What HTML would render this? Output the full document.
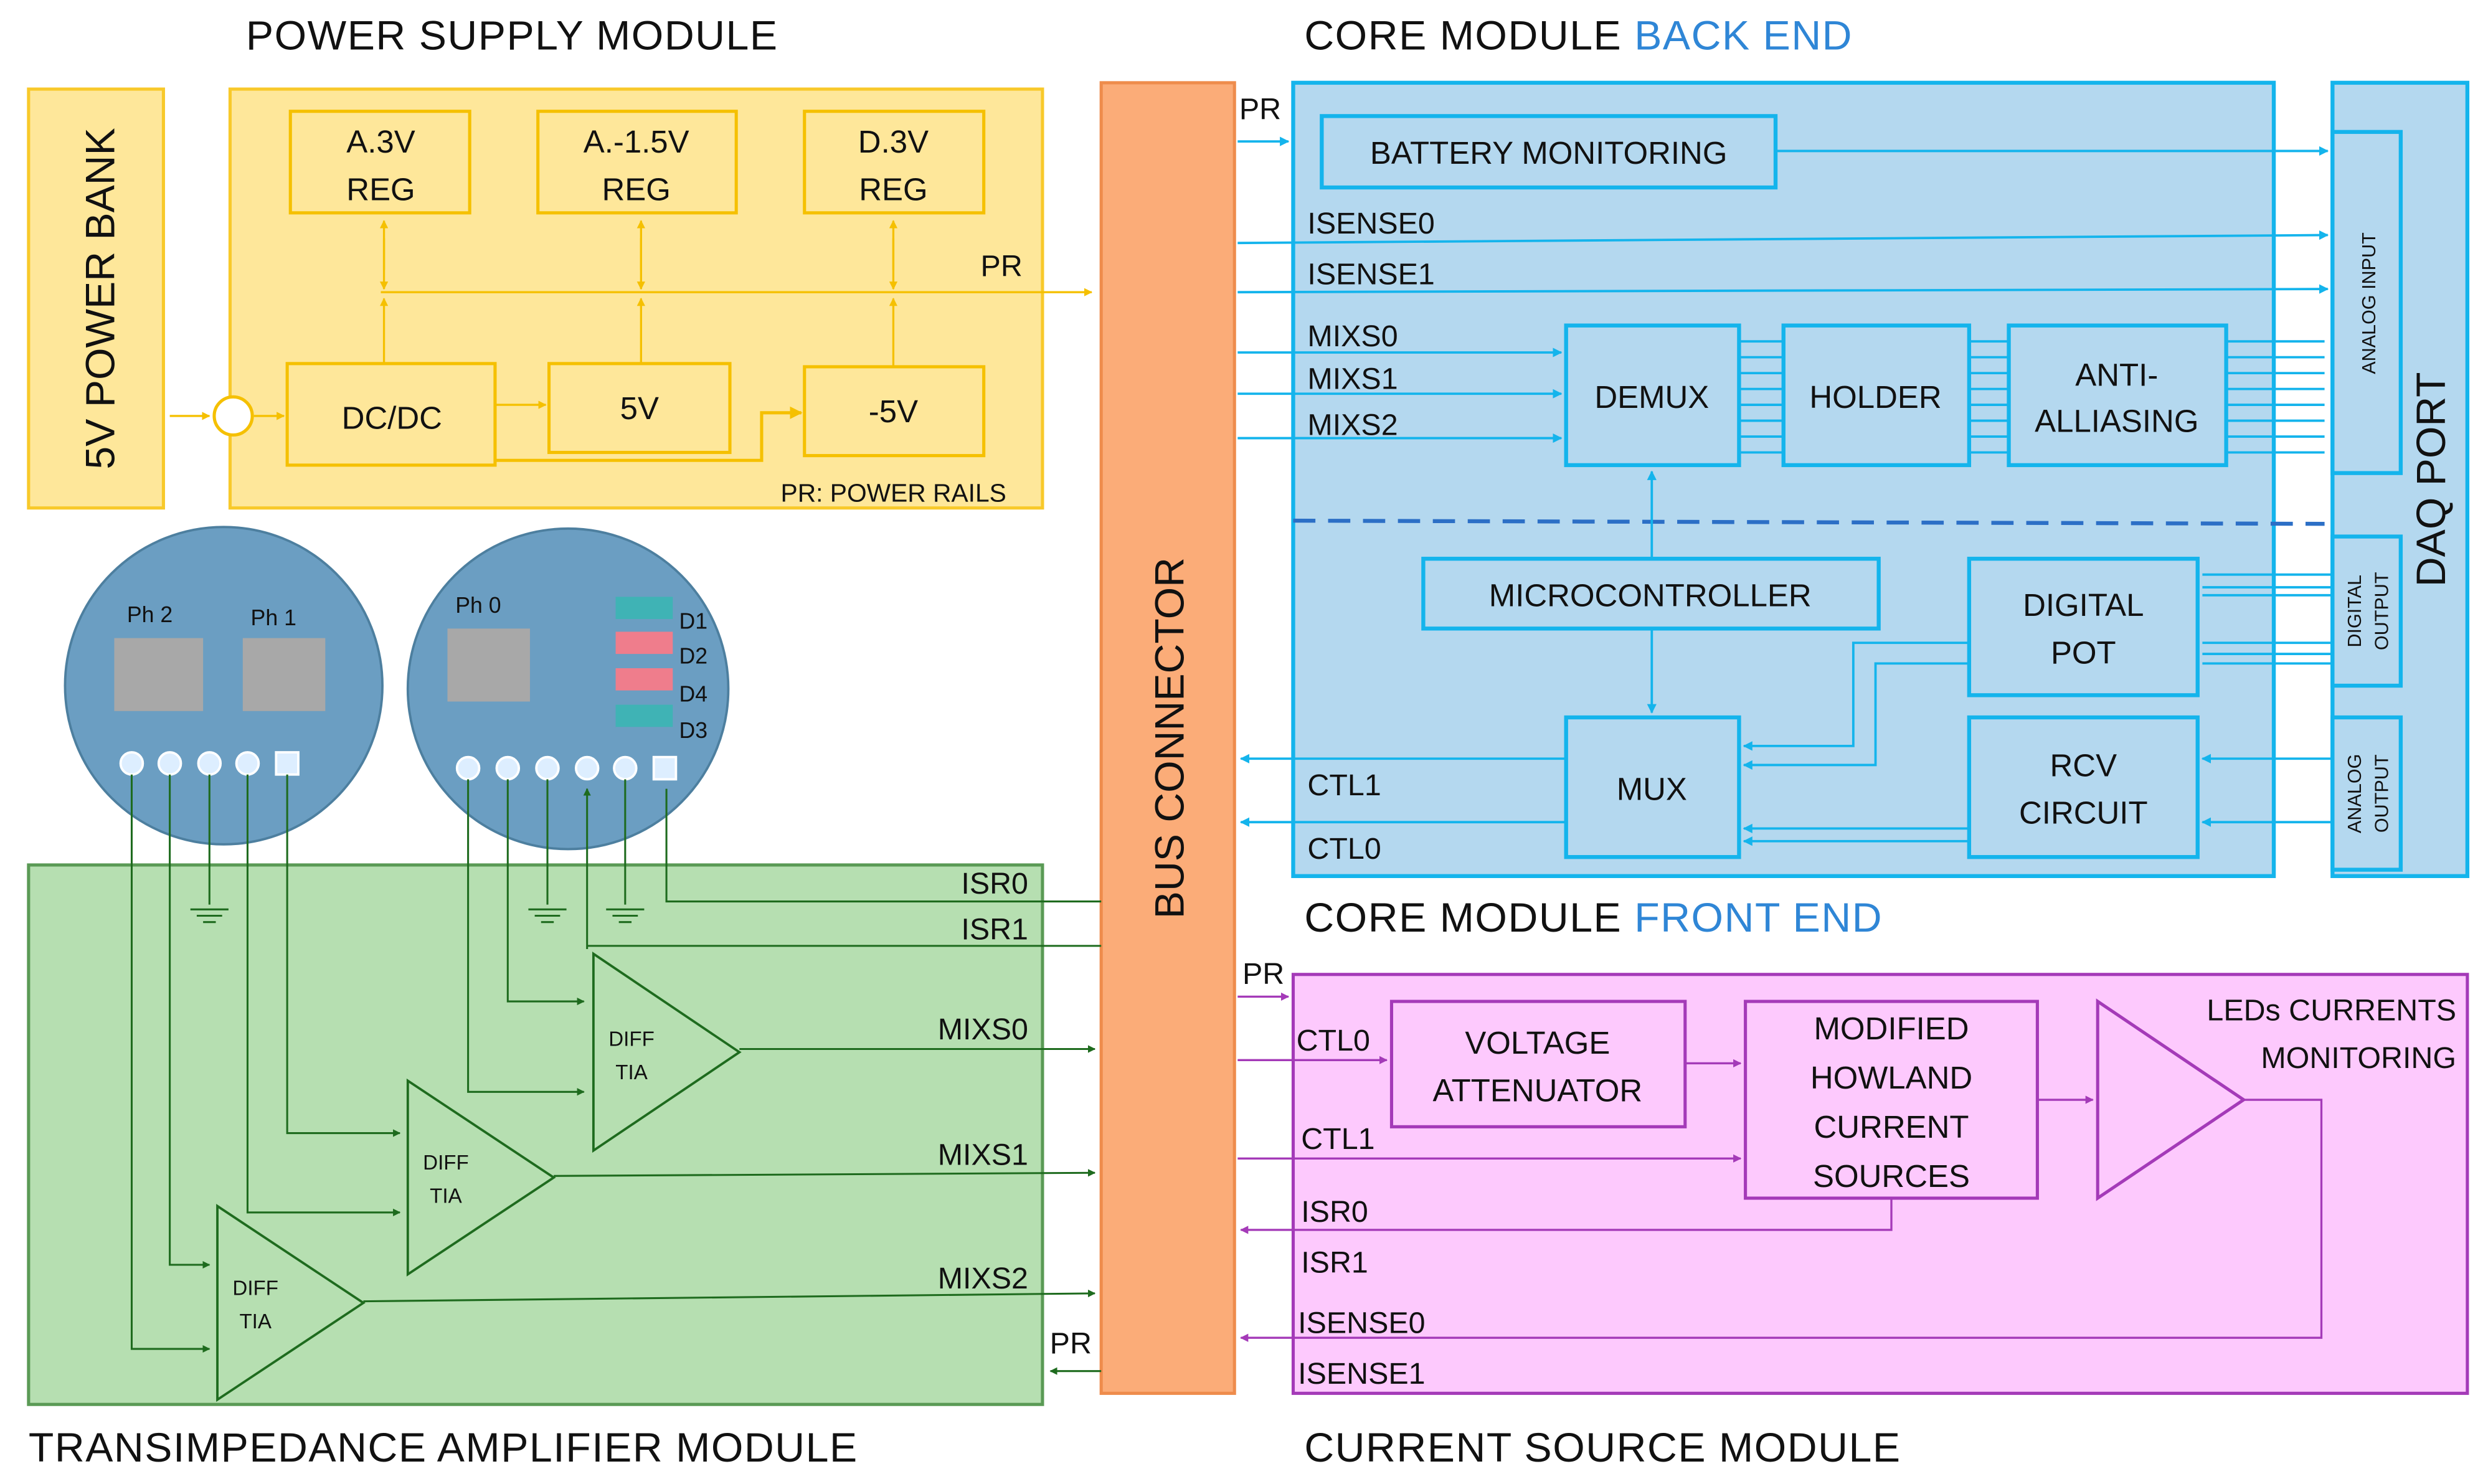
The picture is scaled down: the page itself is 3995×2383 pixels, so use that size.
<!DOCTYPE html>
<html><head><meta charset="utf-8"><style>
html,body{margin:0;padding:0;background:#fff;}
svg{display:block;}
text{font-family:"Liberation Sans",sans-serif;fill:#111;}
</style></head><body>
<svg width="3995" height="2383" viewBox="0 0 1568 935" xmlns="http://www.w3.org/2000/svg">
<defs>
<marker id="ay" viewBox="0 0 10 10" refX="9" refY="5" markerWidth="4" markerHeight="4" orient="auto"><path d="M0,0L10,5L0,10z" fill="#f5c000"/></marker>
<marker id="ab" viewBox="0 0 10 10" refX="9" refY="5" markerWidth="4" markerHeight="4" orient="auto"><path d="M0,0L10,5L0,10z" fill="#14b4ec"/></marker>
<marker id="ag" viewBox="0 0 10 10" refX="9" refY="5" markerWidth="4" markerHeight="4" orient="auto"><path d="M0,0L10,5L0,10z" fill="#1e6b1e"/></marker>
<marker id="ap" viewBox="0 0 10 10" refX="9" refY="5" markerWidth="4" markerHeight="4" orient="auto"><path d="M0,0L10,5L0,10z" fill="#a43ab8"/></marker>
</defs>

<!-- titles -->
<g font-size="26" letter-spacing="0.6">
<text x="155" y="31">POWER SUPPLY MODULE</text>
<text x="822" y="31">CORE MODULE <tspan fill="#2f86d6">BACK END</tspan></text>
<text x="822" y="587">CORE MODULE <tspan fill="#2f86d6">FRONT END</tspan></text>
<text x="18" y="921">TRANSIMPEDANCE AMPLIFIER MODULE</text>
<text x="822" y="921">CURRENT SOURCE MODULE</text>
</g>

<!-- power -->
<rect x="18" y="56" width="85" height="264" fill="#fee79a" stroke="#f8c92a" stroke-width="2"/>
<text transform="translate(72,188) rotate(-90)" font-size="26" text-anchor="middle">5V POWER BANK</text>
<rect x="145" y="56" width="512" height="264" fill="#fee79a" stroke="#f8c92a" stroke-width="2"/>
<g fill="none" stroke="#f5c000" stroke-width="2">
<rect x="183" y="70" width="113" height="64"/><rect x="339" y="70" width="125" height="64"/><rect x="507" y="70" width="113" height="64"/>
<rect x="181" y="229" width="131" height="64"/><rect x="346" y="229" width="114" height="56"/><rect x="507" y="231" width="113" height="56"/>
</g>
<g stroke="#f5c000" stroke-width="1.3" fill="none">
<line x1="240" y1="184" x2="688" y2="184" marker-end="url(#ay)"/>
<line x1="242" y1="229" x2="242" y2="188" marker-end="url(#ay)"/>
<line x1="404" y1="229" x2="404" y2="188" marker-end="url(#ay)"/>
<line x1="563" y1="231" x2="563" y2="188" marker-end="url(#ay)"/>
<line x1="242" y1="170" x2="242" y2="139" marker-end="url(#ay)"/>
<line x1="404" y1="170" x2="404" y2="139" marker-end="url(#ay)"/>
<line x1="563" y1="170" x2="563" y2="139" marker-end="url(#ay)"/>
<line x1="242" y1="150" x2="242" y2="182" marker-end="url(#ay)"/>
<line x1="404" y1="150" x2="404" y2="182" marker-end="url(#ay)"/>
<line x1="563" y1="150" x2="563" y2="182" marker-end="url(#ay)"/>
<line x1="107" y1="262" x2="132" y2="262" marker-end="url(#ay)"/>
<line x1="160" y1="262" x2="179" y2="262" marker-end="url(#ay)"/>
<line x1="312" y1="255" x2="344" y2="255" marker-end="url(#ay)"/>
<path d="M312,290H480V260H505" marker-end="url(#ay)" stroke-width="2"/>
</g>
<circle cx="147" cy="262" r="12" fill="#fff" stroke="#f5c000" stroke-width="2"/>
<g font-size="20" text-anchor="middle">
<text x="240" y="96">A.3V</text><text x="240" y="126">REG</text>
<text x="401" y="96">A.-1.5V</text><text x="401" y="126">REG</text>
<text x="563" y="96">D.3V</text><text x="563" y="126">REG</text>
<text x="247" y="270">DC/DC</text><text x="403" y="264">5V</text><text x="563" y="266">-5V</text>
</g>
<text x="618" y="174" font-size="19">PR</text>
<text x="492" y="316" font-size="16">PR: POWER RAILS</text>

<!-- bus -->
<rect x="694" y="52" width="84" height="826" fill="#fbac78" stroke="#ee8c4c" stroke-width="2"/>
<text transform="translate(746,465) rotate(-90)" font-size="26" text-anchor="middle">BUS CONNECTOR</text>

<!-- circles -->
<circle cx="141" cy="432" r="100" fill="#6b9ec2" stroke="#4d7f9f" stroke-width="1.5"/>
<circle cx="358" cy="434" r="101" fill="#6b9ec2" stroke="#4d7f9f" stroke-width="1.5"/>
<rect x="72" y="402" width="56" height="46" fill="#a8a8a8"/><rect x="153" y="402" width="52" height="46" fill="#a8a8a8"/>
<rect x="282" y="396" width="52" height="46" fill="#a8a8a8"/>
<g font-size="14" fill="#fff"><text x="80" y="392" fill="#fff">Ph 2</text><text x="158" y="394" fill="#fff">Ph 1</text><text x="287" y="386" fill="#fff">Ph 0</text>
<text x="428" y="396" fill="#fff">D1</text><text x="428" y="418" fill="#fff">D2</text><text x="428" y="442" fill="#fff">D4</text><text x="428" y="465" fill="#fff">D3</text></g>
<rect x="388" y="376" width="36" height="14" fill="#3fb3b5"/><rect x="388" y="398" width="36" height="14" fill="#ef7d8c"/>
<rect x="388" y="421" width="36" height="14" fill="#ef7d8c"/><rect x="388" y="444" width="36" height="14" fill="#3fb3b5"/>
<g fill="#ddeeff" stroke="#fff" stroke-width="1.5">
<circle cx="83" cy="481" r="7"/><circle cx="107" cy="481" r="7"/><circle cx="132" cy="481" r="7"/><circle cx="156" cy="481" r="7"/><rect x="174" y="474" width="14" height="14"/>
<circle cx="295" cy="484" r="7"/><circle cx="320" cy="484" r="7"/><circle cx="345" cy="484" r="7"/><circle cx="370" cy="484" r="7"/><circle cx="394" cy="484" r="7"/><rect x="412" y="477" width="14" height="14"/>
</g>

<!-- green TIA -->
<rect x="18" y="545" width="639" height="340" fill="#b6dfb1" stroke="#5a9a55" stroke-width="2"/>
<g fill="none" stroke="#1e6b1e" stroke-width="1.2">
<path d="M83,488V850H132" marker-end="url(#ag)"/><path d="M107,488V797H132" marker-end="url(#ag)"/>
<path d="M156,488V764H252" marker-end="url(#ag)"/><path d="M181,488V714H252" marker-end="url(#ag)"/>
<path d="M295,491V688H368" marker-end="url(#ag)"/><path d="M320,491V631H368" marker-end="url(#ag)"/>
<line x1="132" y1="488" x2="132" y2="570"/><line x1="345" y1="491" x2="345" y2="570"/><line x1="394" y1="491" x2="394" y2="570"/>
<line x1="370" y1="598" x2="370" y2="497" marker-end="url(#ag)"/>
<path d="M420,497V568H694"/>
<path d="M370,596H694"/>
<line x1="466" y1="661" x2="690" y2="661" marker-end="url(#ag)"/>
<line x1="349" y1="741" x2="690" y2="739" marker-end="url(#ag)"/>
<line x1="229" y1="820" x2="690" y2="815" marker-end="url(#ag)"/>
<line x1="694" y1="864" x2="662" y2="864" marker-end="url(#ag)"/>
<path d="M120,573h24M124,577h16M128,581h8M333,573h24M337,577h16M341,581h8M382,573h24M386,577h16M390,581h8"/>
</g>
<g fill="#b6dfb1" stroke="#1e6b1e" stroke-width="1.5">
<path d="M374,601V725L466,663z"/><path d="M257,681V803L349,742z"/><path d="M137,760V882L229,821z"/>
</g>
<g font-size="13" text-anchor="middle"><text x="398" y="659">DIFF</text><text x="398" y="680">TIA</text>
<text x="281" y="737">DIFF</text><text x="281" y="758">TIA</text><text x="161" y="816">DIFF</text><text x="161" y="837">TIA</text></g>
<g font-size="19" text-anchor="end"><text x="648" y="563">ISR0</text><text x="648" y="592">ISR1</text><text x="648" y="655">MIXS0</text>
<text x="648" y="734">MIXS1</text><text x="648" y="812">MIXS2</text><text x="688" y="853">PR</text></g>

<!-- back end -->
<rect x="815" y="52" width="618" height="500" fill="#b4d8ef" stroke="#14b4ec" stroke-width="2.5"/>
<rect x="1470" y="52" width="85" height="500" fill="#b4d8ef" stroke="#14b4ec" stroke-width="2.5"/>
<g fill="none" stroke="#14b4ec" stroke-width="2.5">
<rect x="1470" y="83" width="43" height="215"/><rect x="1470" y="338" width="43" height="94"/><rect x="1470" y="452" width="43" height="96"/>
<rect x="833" y="73" width="286" height="45"/><rect x="987" y="205" width="109" height="88"/><rect x="1124" y="205" width="117" height="88"/>
<rect x="1266" y="205" width="137" height="88"/><rect x="897" y="352" width="287" height="44"/>
<rect x="1241" y="352" width="144" height="86"/><rect x="1241" y="452" width="144" height="88"/><rect x="987" y="452" width="109" height="88"/>
</g>
<line x1="815" y1="328" x2="1465" y2="330" stroke="#2c6fc6" stroke-width="2.5" stroke-dasharray="14,8"/>
<g fill="none" stroke="#14b4ec" stroke-width="1.5">
<line x1="780" y1="89" x2="812" y2="89" marker-end="url(#ab)"/>
<line x1="1119" y1="95" x2="1467" y2="95" marker-end="url(#ab)"/>
<line x1="780" y1="153" x2="1467" y2="148" marker-end="url(#ab)"/>
<line x1="780" y1="184" x2="1467" y2="182" marker-end="url(#ab)"/>
<line x1="780" y1="222" x2="984" y2="222" marker-end="url(#ab)"/>
<line x1="780" y1="248" x2="984" y2="248" marker-end="url(#ab)"/>
<line x1="780" y1="276" x2="984" y2="276" marker-end="url(#ab)"/>
<line x1="1041" y1="352" x2="1041" y2="297" marker-end="url(#ab)"/>
<line x1="1041" y1="396" x2="1041" y2="449" marker-end="url(#ab)"/>
<line x1="987" y1="478" x2="782" y2="478" marker-end="url(#ab)"/>
<line x1="987" y1="518" x2="782" y2="518" marker-end="url(#ab)"/>
<path d="M1241,405H1168V470H1099" marker-end="url(#ab)"/>
<path d="M1241,418H1182V482H1099" marker-end="url(#ab)"/>
<line x1="1241" y1="522" x2="1099" y2="522" marker-end="url(#ab)"/>
<line x1="1241" y1="530" x2="1099" y2="530" marker-end="url(#ab)"/>
<line x1="1470" y1="478" x2="1388" y2="478" marker-end="url(#ab)"/>
<line x1="1470" y1="518" x2="1388" y2="518" marker-end="url(#ab)"/>
<path d="M1470,362H1388M1470,370H1388M1470,375H1388M1470,405H1388M1470,412H1388M1470,418H1388"/>
<path d="M1096,215H1124M1096,225H1124M1096,235H1124M1096,245H1124M1096,255H1124M1096,265H1124M1096,275H1124M1096,285H1124"/>
<path d="M1241,215H1266M1241,225H1266M1241,235H1266M1241,245H1266M1241,255H1266M1241,265H1266M1241,275H1266M1241,285H1266"/>
<path d="M1403,215H1465M1403,225H1465M1403,235H1465M1403,245H1465M1403,255H1465M1403,265H1465M1403,275H1465M1403,285H1465"/>
</g>
<g font-size="20" text-anchor="middle">
<text x="976" y="103">BATTERY MONITORING</text><text x="1041" y="257">DEMUX</text><text x="1182" y="257">HOLDER</text>
<text x="1334" y="243">ANTI-</text><text x="1334" y="272">ALLIASING</text><text x="1040" y="382">MICROCONTROLLER</text>
<text x="1313" y="388">DIGITAL</text><text x="1313" y="418">POT</text><text x="1041" y="504">MUX</text>
<text x="1313" y="489">RCV</text><text x="1313" y="519">CIRCUIT</text>
</g>
<g font-size="19"><text x="781" y="75">PR</text><text x="824" y="147">ISENSE0</text><text x="824" y="179">ISENSE1</text>
<text x="824" y="218">MIXS0</text><text x="824" y="245">MIXS1</text><text x="824" y="274">MIXS2</text>
<text x="824" y="501">CTL1</text><text x="824" y="541">CTL0</text></g>
<g font-size="12" text-anchor="middle">
<text transform="translate(1497,191) rotate(-90)">ANALOG INPUT</text>
<text transform="translate(1488,385) rotate(-90)">DIGITAL</text><text transform="translate(1505,385) rotate(-90)">OUTPUT</text>
<text transform="translate(1488,500) rotate(-90)">ANALOG</text><text transform="translate(1505,500) rotate(-90)">OUTPUT</text>
</g>
<text transform="translate(1541,302) rotate(-90)" font-size="26" text-anchor="middle">DAQ PORT</text>

<!-- current source -->
<rect x="815" y="614" width="740" height="264" fill="#fdc9fd" stroke="#a43ab8" stroke-width="2"/>
<g fill="none" stroke="#a43ab8" stroke-width="2">
<rect x="877" y="631" width="185" height="79"/><rect x="1100" y="631" width="184" height="124"/>
<path d="M1322,631V755L1414,693z"/>
</g>
<g fill="none" stroke="#a43ab8" stroke-width="1.3">
<line x1="780" y1="628" x2="812" y2="628" marker-end="url(#ap)"/>
<line x1="780" y1="668" x2="874" y2="668" marker-end="url(#ap)"/>
<line x1="1062" y1="670" x2="1097" y2="670" marker-end="url(#ap)"/>
<line x1="780" y1="730" x2="1097" y2="730" marker-end="url(#ap)"/>
<line x1="1284" y1="693" x2="1319" y2="693" marker-end="url(#ap)"/>
<path d="M1192,755V775H782" marker-end="url(#ap)"/>
<path d="M1414,693H1463V843H782" marker-end="url(#ap)"/>
</g>
<g font-size="20" text-anchor="middle">
<text x="969" y="664">VOLTAGE</text><text x="969" y="694">ATTENUATOR</text>
<text x="1192" y="655">MODIFIED</text><text x="1192" y="686">HOWLAND</text><text x="1192" y="717">CURRENT</text><text x="1192" y="748">SOURCES</text>
</g>
<g font-size="19" text-anchor="end"><text x="1548" y="643">LEDs CURRENTS</text><text x="1548" y="673">MONITORING</text></g>
<g font-size="19"><text x="783" y="620">PR</text><text x="817" y="662">CTL0</text><text x="820" y="724">CTL1</text>
<text x="820" y="770">ISR0</text><text x="820" y="802">ISR1</text><text x="818" y="840">ISENSE0</text><text x="818" y="872">ISENSE1</text></g>
</svg>
</body></html>
